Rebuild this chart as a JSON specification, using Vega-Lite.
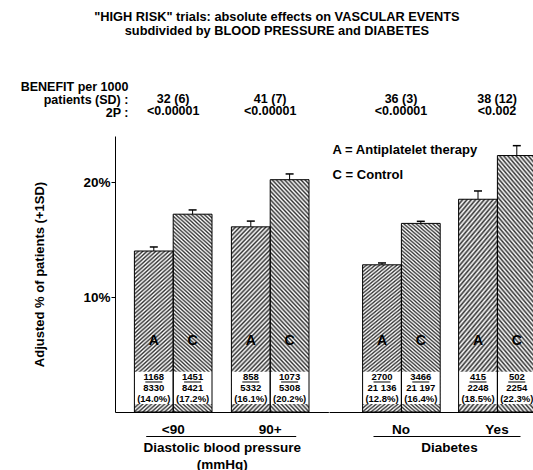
{
  "$schema": "https://vega.github.io/schema/vega-lite/v6.json",
  "padding": {"left": 20, "top": 10, "right": 0, "bottom": 0},
  "title": {
    "text": ["\"HIGH RISK\" trials: absolute effects on VASCULAR EVENTS", "subdivided by BLOOD PRESSURE and DIABETES"],
    "fontSize": 12.8, "lineHeight": 14, "anchor": "middle", "dx": -18, "offset": 43
  },
  "datasets": {
    "bars": [
      {"panel": "bp", "group": "<90", "arm": "A", "pct": 14.0, "hi": 14.35, "events": "1168", "total": "8330", "rate": "(14.0%)"},
      {"panel": "bp", "group": "<90", "arm": "C", "pct": 17.2, "hi": 17.57, "events": "1451", "total": "8421", "rate": "(17.2%)"},
      {"panel": "bp", "group": "90+", "arm": "A", "pct": 16.1, "hi": 16.6, "events": "858", "total": "5332", "rate": "(16.1%)"},
      {"panel": "bp", "group": "90+", "arm": "C", "pct": 20.2, "hi": 20.7, "events": "1073", "total": "5308", "rate": "(20.2%)"},
      {"panel": "db", "group": "No", "arm": "A", "pct": 12.8, "hi": 12.96, "events": "2700", "total": "21 136", "rate": "(12.8%)"},
      {"panel": "db", "group": "No", "arm": "C", "pct": 16.4, "hi": 16.58, "events": "3466", "total": "21 197", "rate": "(16.4%)"},
      {"panel": "db", "group": "Yes", "arm": "A", "pct": 18.5, "hi": 19.22, "events": "415", "total": "2248", "rate": "(18.5%)"},
      {"panel": "db", "group": "Yes", "arm": "C", "pct": 22.3, "hi": 23.16, "events": "502", "total": "2254", "rate": "(22.3%)"}
    ],
    "groups": [
      {"panel": "bp", "group": "<90", "benefit": "32 (6)", "p": "<0.00001"},
      {"panel": "bp", "group": "90+", "benefit": "41 (7)", "p": "<0.00001"},
      {"panel": "db", "group": "No", "benefit": "36 (3)", "p": "<0.00001"},
      {"panel": "db", "group": "Yes", "benefit": "38 (12)", "p": "<0.002"}
    ]
  },
  "spacing": 0,
  "bounds": "flush",
  "hconcat": [
    {
      "width": 213.4,
      "height": 276,
      "layer": [
        {
          "data": {"name": "bars"},
          "transform": [{"filter": "datum.panel === 'bp' && datum.arm === 'A'"}],
          "mark": {"type": "bar", "strokeWidth": 0, "fill": {"gradient": "linear", "x1": 0, "y1": 0, "x2": 0.2527, "y2": 1.1625, "stops": [
        {"offset": 0, "color": "#333"}, {"offset": 0.01, "color": "#fff"}, {"offset": 0.02, "color": "#333"}, {"offset": 0.03, "color": "#fff"}, {"offset": 0.04, "color": "#333"}, {"offset": 0.05, "color": "#fff"}, {"offset": 0.06, "color": "#333"}, {"offset": 0.07, "color": "#fff"}, {"offset": 0.08, "color": "#333"}, {"offset": 0.09, "color": "#fff"},
        {"offset": 0.1, "color": "#333"}, {"offset": 0.11, "color": "#fff"}, {"offset": 0.12, "color": "#333"}, {"offset": 0.13, "color": "#fff"}, {"offset": 0.14, "color": "#333"}, {"offset": 0.15, "color": "#fff"}, {"offset": 0.16, "color": "#333"}, {"offset": 0.17, "color": "#fff"}, {"offset": 0.18, "color": "#333"}, {"offset": 0.19, "color": "#fff"},
        {"offset": 0.2, "color": "#333"}, {"offset": 0.21, "color": "#fff"}, {"offset": 0.22, "color": "#333"}, {"offset": 0.23, "color": "#fff"}, {"offset": 0.24, "color": "#333"}, {"offset": 0.25, "color": "#fff"}, {"offset": 0.26, "color": "#333"}, {"offset": 0.27, "color": "#fff"}, {"offset": 0.28, "color": "#333"}, {"offset": 0.29, "color": "#fff"},
        {"offset": 0.3, "color": "#333"}, {"offset": 0.31, "color": "#fff"}, {"offset": 0.32, "color": "#333"}, {"offset": 0.33, "color": "#fff"}, {"offset": 0.34, "color": "#333"}, {"offset": 0.35, "color": "#fff"}, {"offset": 0.36, "color": "#333"}, {"offset": 0.37, "color": "#fff"}, {"offset": 0.38, "color": "#333"}, {"offset": 0.39, "color": "#fff"},
        {"offset": 0.4, "color": "#333"}, {"offset": 0.41, "color": "#fff"}, {"offset": 0.42, "color": "#333"}, {"offset": 0.43, "color": "#fff"}, {"offset": 0.44, "color": "#333"}, {"offset": 0.45, "color": "#fff"}, {"offset": 0.46, "color": "#333"}, {"offset": 0.47, "color": "#fff"}, {"offset": 0.48, "color": "#333"}, {"offset": 0.49, "color": "#fff"},
        {"offset": 0.5, "color": "#333"}, {"offset": 0.51, "color": "#fff"}, {"offset": 0.52, "color": "#333"}, {"offset": 0.53, "color": "#fff"}, {"offset": 0.54, "color": "#333"}, {"offset": 0.55, "color": "#fff"}, {"offset": 0.56, "color": "#333"}, {"offset": 0.57, "color": "#fff"}, {"offset": 0.58, "color": "#333"}, {"offset": 0.59, "color": "#fff"},
        {"offset": 0.6, "color": "#333"}, {"offset": 0.61, "color": "#fff"}, {"offset": 0.62, "color": "#333"}, {"offset": 0.63, "color": "#fff"}, {"offset": 0.64, "color": "#333"}, {"offset": 0.65, "color": "#fff"}, {"offset": 0.66, "color": "#333"}, {"offset": 0.67, "color": "#fff"}, {"offset": 0.68, "color": "#333"}, {"offset": 0.69, "color": "#fff"},
        {"offset": 0.7, "color": "#333"}, {"offset": 0.71, "color": "#fff"}, {"offset": 0.72, "color": "#333"}, {"offset": 0.73, "color": "#fff"}, {"offset": 0.74, "color": "#333"}, {"offset": 0.75, "color": "#fff"}, {"offset": 0.76, "color": "#333"}, {"offset": 0.77, "color": "#fff"}, {"offset": 0.78, "color": "#333"}, {"offset": 0.79, "color": "#fff"},
        {"offset": 0.8, "color": "#333"}, {"offset": 0.81, "color": "#fff"}, {"offset": 0.82, "color": "#333"}, {"offset": 0.83, "color": "#fff"}, {"offset": 0.84, "color": "#333"}, {"offset": 0.85, "color": "#fff"}, {"offset": 0.86, "color": "#333"}, {"offset": 0.87, "color": "#fff"}, {"offset": 0.88, "color": "#333"}, {"offset": 0.89, "color": "#fff"},
        {"offset": 0.9, "color": "#333"}, {"offset": 0.91, "color": "#fff"}, {"offset": 0.92, "color": "#333"}, {"offset": 0.93, "color": "#fff"}, {"offset": 0.94, "color": "#333"}, {"offset": 0.95, "color": "#fff"}, {"offset": 0.96, "color": "#333"}, {"offset": 0.97, "color": "#fff"}, {"offset": 0.98, "color": "#333"}, {"offset": 0.99, "color": "#fff"},
        {"offset": 1, "color": "#333"}
      ]}},
          "encoding": {
            "x": {"field": "group", "type": "nominal", "scale": {"domain": ["<90", "90+"], "paddingInner": 0.2, "paddingOuter": 0.2},
              "axis": {"title": ["Diastolic blood pressure", "(mmHg)"], "titleLineHeight": 16.5, "labelAngle": 0, "ticks": false, "tickSize": 0, "labelPadding": 10, "titlePadding": 5}},
            "xOffset": {"field": "arm", "type": "nominal", "scale": {"domain": ["A", "C"], "paddingInner": 0, "paddingOuter": 0}},
            "y": {"field": "pct", "type": "quantitative", "scale": {"domain": [0, 24], "nice": false},
              "axis": {"values": [10, 20], "labelExpr": "datum.value + '%'", "tickSize": 4, "labelPadding": 1, "title": "Adjusted % of patients (+1SD)", "titleFontSize": 13, "titlePadding": 36}}
          }
        },
        {
          "data": {"name": "bars"},
          "transform": [{"filter": "datum.panel === 'bp' && datum.arm === 'C'"}],
          "mark": {"type": "bar", "strokeWidth": 0, "fill": {"gradient": "linear", "x1": 1, "y1": 0, "x2": 0.796, "y2": 1.142, "stops": [
        {"offset": 0, "color": "#333"}, {"offset": 0.008, "color": "#fff"}, {"offset": 0.016, "color": "#333"}, {"offset": 0.024, "color": "#fff"}, {"offset": 0.032, "color": "#333"}, {"offset": 0.04, "color": "#fff"}, {"offset": 0.048, "color": "#333"}, {"offset": 0.056, "color": "#fff"}, {"offset": 0.064, "color": "#333"}, {"offset": 0.072, "color": "#fff"},
        {"offset": 0.08, "color": "#333"}, {"offset": 0.088, "color": "#fff"}, {"offset": 0.096, "color": "#333"}, {"offset": 0.104, "color": "#fff"}, {"offset": 0.112, "color": "#333"}, {"offset": 0.12, "color": "#fff"}, {"offset": 0.128, "color": "#333"}, {"offset": 0.136, "color": "#fff"}, {"offset": 0.144, "color": "#333"}, {"offset": 0.152, "color": "#fff"},
        {"offset": 0.16, "color": "#333"}, {"offset": 0.168, "color": "#fff"}, {"offset": 0.176, "color": "#333"}, {"offset": 0.184, "color": "#fff"}, {"offset": 0.192, "color": "#333"}, {"offset": 0.2, "color": "#fff"}, {"offset": 0.208, "color": "#333"}, {"offset": 0.216, "color": "#fff"}, {"offset": 0.224, "color": "#333"}, {"offset": 0.232, "color": "#fff"},
        {"offset": 0.24, "color": "#333"}, {"offset": 0.248, "color": "#fff"}, {"offset": 0.256, "color": "#333"}, {"offset": 0.264, "color": "#fff"}, {"offset": 0.272, "color": "#333"}, {"offset": 0.28, "color": "#fff"}, {"offset": 0.288, "color": "#333"}, {"offset": 0.296, "color": "#fff"}, {"offset": 0.304, "color": "#333"}, {"offset": 0.312, "color": "#fff"},
        {"offset": 0.32, "color": "#333"}, {"offset": 0.328, "color": "#fff"}, {"offset": 0.336, "color": "#333"}, {"offset": 0.344, "color": "#fff"}, {"offset": 0.352, "color": "#333"}, {"offset": 0.36, "color": "#fff"}, {"offset": 0.368, "color": "#333"}, {"offset": 0.376, "color": "#fff"}, {"offset": 0.384, "color": "#333"}, {"offset": 0.392, "color": "#fff"},
        {"offset": 0.4, "color": "#333"}, {"offset": 0.408, "color": "#fff"}, {"offset": 0.416, "color": "#333"}, {"offset": 0.424, "color": "#fff"}, {"offset": 0.432, "color": "#333"}, {"offset": 0.44, "color": "#fff"}, {"offset": 0.448, "color": "#333"}, {"offset": 0.456, "color": "#fff"}, {"offset": 0.464, "color": "#333"}, {"offset": 0.472, "color": "#fff"},
        {"offset": 0.48, "color": "#333"}, {"offset": 0.488, "color": "#fff"}, {"offset": 0.496, "color": "#333"}, {"offset": 0.504, "color": "#fff"}, {"offset": 0.512, "color": "#333"}, {"offset": 0.52, "color": "#fff"}, {"offset": 0.528, "color": "#333"}, {"offset": 0.536, "color": "#fff"}, {"offset": 0.544, "color": "#333"}, {"offset": 0.552, "color": "#fff"},
        {"offset": 0.56, "color": "#333"}, {"offset": 0.568, "color": "#fff"}, {"offset": 0.576, "color": "#333"}, {"offset": 0.584, "color": "#fff"}, {"offset": 0.592, "color": "#333"}, {"offset": 0.6, "color": "#fff"}, {"offset": 0.608, "color": "#333"}, {"offset": 0.616, "color": "#fff"}, {"offset": 0.624, "color": "#333"}, {"offset": 0.632, "color": "#fff"},
        {"offset": 0.64, "color": "#333"}, {"offset": 0.648, "color": "#fff"}, {"offset": 0.656, "color": "#333"}, {"offset": 0.664, "color": "#fff"}, {"offset": 0.672, "color": "#333"}, {"offset": 0.68, "color": "#fff"}, {"offset": 0.688, "color": "#333"}, {"offset": 0.696, "color": "#fff"}, {"offset": 0.704, "color": "#333"}, {"offset": 0.712, "color": "#fff"},
        {"offset": 0.72, "color": "#333"}, {"offset": 0.728, "color": "#fff"}, {"offset": 0.736, "color": "#333"}, {"offset": 0.744, "color": "#fff"}, {"offset": 0.752, "color": "#333"}, {"offset": 0.76, "color": "#fff"}, {"offset": 0.768, "color": "#333"}, {"offset": 0.776, "color": "#fff"}, {"offset": 0.784, "color": "#333"}, {"offset": 0.792, "color": "#fff"},
        {"offset": 0.8, "color": "#333"}, {"offset": 0.808, "color": "#fff"}, {"offset": 0.816, "color": "#333"}, {"offset": 0.824, "color": "#fff"}, {"offset": 0.832, "color": "#333"}, {"offset": 0.84, "color": "#fff"}, {"offset": 0.848, "color": "#333"}, {"offset": 0.856, "color": "#fff"}, {"offset": 0.864, "color": "#333"}, {"offset": 0.872, "color": "#fff"},
        {"offset": 0.88, "color": "#333"}, {"offset": 0.888, "color": "#fff"}, {"offset": 0.896, "color": "#333"}, {"offset": 0.904, "color": "#fff"}, {"offset": 0.912, "color": "#333"}, {"offset": 0.92, "color": "#fff"}, {"offset": 0.928, "color": "#333"}, {"offset": 0.936, "color": "#fff"}, {"offset": 0.944, "color": "#333"}, {"offset": 0.952, "color": "#fff"},
        {"offset": 0.96, "color": "#333"}, {"offset": 0.968, "color": "#fff"}, {"offset": 0.976, "color": "#333"}, {"offset": 0.984, "color": "#fff"}, {"offset": 0.992, "color": "#333"}, {"offset": 1, "color": "#fff"}
      ]}},
          "encoding": {
            "x": {"field": "group", "type": "nominal"},
            "xOffset": {"field": "arm", "type": "nominal"},
            "y": {"field": "pct", "type": "quantitative"}
          }
        },
        {
          "data": {"name": "bars"},
          "transform": [{"filter": "datum.panel === 'bp'"}],
          "layer": [
            {"mark": {"type": "bar", "fill": "#ffffff", "strokeWidth": 0},
             "encoding": {"x": {"field": "group", "type": "nominal"}, "xOffset": {"field": "arm", "type": "nominal"}, "y": {"datum": 0.7}, "y2": {"datum": 3.5}}},
            {"mark": {"type": "bar", "filled": false, "stroke": "#000000", "strokeWidth": 1},
             "encoding": {"x": {"field": "group", "type": "nominal"}, "xOffset": {"field": "arm", "type": "nominal"}, "y": {"field": "pct", "type": "quantitative"}}},
            {"mark": {"type": "rule", "stroke": "#000000", "strokeWidth": 1},
             "encoding": {"x": {"field": "group", "type": "nominal"}, "xOffset": {"field": "arm", "type": "nominal"}, "y": {"field": "pct", "type": "quantitative"}, "y2": {"field": "hi"}}},
            {"mark": {"type": "tick", "orient": "horizontal", "size": 8, "thickness": 1.5, "color": "#000000", "opacity": 1},
             "encoding": {"x": {"field": "group", "type": "nominal"}, "xOffset": {"field": "arm", "type": "nominal"}, "y": {"field": "hi", "type": "quantitative"}}},
            {"mark": {"type": "text", "fontSize": 14, "baseline": "middle"},
             "encoding": {"x": {"field": "group", "type": "nominal"}, "xOffset": {"field": "arm", "type": "nominal"}, "y": {"datum": 6.17}, "text": {"field": "arm"}}},
            {"mark": {"type": "text", "fontSize": 9.5, "baseline": "middle"},
             "encoding": {"x": {"field": "group", "type": "nominal"}, "xOffset": {"field": "arm", "type": "nominal"}, "y": {"datum": 3.02}, "text": {"field": "events"}}},
            {"mark": {"type": "tick", "orient": "horizontal", "size": 17, "thickness": 1, "color": "#000000", "opacity": 1},
             "encoding": {"x": {"field": "group", "type": "nominal"}, "xOffset": {"field": "arm", "type": "nominal"}, "y": {"datum": 2.61}}},
            {"mark": {"type": "text", "fontSize": 9.5, "baseline": "middle"},
             "encoding": {"x": {"field": "group", "type": "nominal"}, "xOffset": {"field": "arm", "type": "nominal"}, "y": {"datum": 2.06}, "text": {"field": "total"}}},
            {"mark": {"type": "text", "fontSize": 9.5, "baseline": "middle"},
             "encoding": {"x": {"field": "group", "type": "nominal"}, "xOffset": {"field": "arm", "type": "nominal"}, "y": {"datum": 1.1}, "text": {"field": "rate"}}}
          ]
        },
        {
          "data": {"name": "groups"},
          "transform": [{"filter": "datum.panel === 'bp'"}],
          "layer": [
            {"mark": {"type": "text", "fontSize": 12.5, "baseline": "middle"},
             "encoding": {"x": {"field": "group", "type": "nominal"}, "y": {"datum": 27.26}, "text": {"field": "benefit"}}},
            {"mark": {"type": "text", "fontSize": 12.5, "baseline": "middle"},
             "encoding": {"x": {"field": "group", "type": "nominal"}, "y": {"datum": 26.17}, "text": {"field": "p"}}}
          ]
        },
        {
          "data": {"values": [{}]},
          "mark": {"type": "text", "fontSize": 12.5, "align": "right", "baseline": "middle", "lineHeight": 13, "dx": -6},
          "encoding": {"x": {"datum": "<90", "bandPosition": 0}, "y": {"datum": 28.3}, "text": {"value": ["BENEFIT per 1000", "patients (SD) :", "2P :"]}}
        },
        {
          "data": {"values": [{}]},
          "mark": {"type": "tick", "orient": "horizontal", "size": 150, "thickness": 1, "color": "#000000", "opacity": 1, "xOffset": 48},
          "encoding": {"x": {"datum": "<90"}, "y": {"datum": -2.13}}
        }
      ]
    },
    {
      "width": 240,
      "height": 276,
      "layer": [
        {
          "data": {"name": "bars"},
          "transform": [{"filter": "datum.panel === 'db' && datum.arm === 'A'"}],
          "mark": {"type": "bar", "strokeWidth": 0, "fill": {"gradient": "linear", "x1": 0, "y1": 0, "x2": 0.2527, "y2": 1.1625, "stops": [
        {"offset": 0, "color": "#333"}, {"offset": 0.01, "color": "#fff"}, {"offset": 0.02, "color": "#333"}, {"offset": 0.03, "color": "#fff"}, {"offset": 0.04, "color": "#333"}, {"offset": 0.05, "color": "#fff"}, {"offset": 0.06, "color": "#333"}, {"offset": 0.07, "color": "#fff"}, {"offset": 0.08, "color": "#333"}, {"offset": 0.09, "color": "#fff"},
        {"offset": 0.1, "color": "#333"}, {"offset": 0.11, "color": "#fff"}, {"offset": 0.12, "color": "#333"}, {"offset": 0.13, "color": "#fff"}, {"offset": 0.14, "color": "#333"}, {"offset": 0.15, "color": "#fff"}, {"offset": 0.16, "color": "#333"}, {"offset": 0.17, "color": "#fff"}, {"offset": 0.18, "color": "#333"}, {"offset": 0.19, "color": "#fff"},
        {"offset": 0.2, "color": "#333"}, {"offset": 0.21, "color": "#fff"}, {"offset": 0.22, "color": "#333"}, {"offset": 0.23, "color": "#fff"}, {"offset": 0.24, "color": "#333"}, {"offset": 0.25, "color": "#fff"}, {"offset": 0.26, "color": "#333"}, {"offset": 0.27, "color": "#fff"}, {"offset": 0.28, "color": "#333"}, {"offset": 0.29, "color": "#fff"},
        {"offset": 0.3, "color": "#333"}, {"offset": 0.31, "color": "#fff"}, {"offset": 0.32, "color": "#333"}, {"offset": 0.33, "color": "#fff"}, {"offset": 0.34, "color": "#333"}, {"offset": 0.35, "color": "#fff"}, {"offset": 0.36, "color": "#333"}, {"offset": 0.37, "color": "#fff"}, {"offset": 0.38, "color": "#333"}, {"offset": 0.39, "color": "#fff"},
        {"offset": 0.4, "color": "#333"}, {"offset": 0.41, "color": "#fff"}, {"offset": 0.42, "color": "#333"}, {"offset": 0.43, "color": "#fff"}, {"offset": 0.44, "color": "#333"}, {"offset": 0.45, "color": "#fff"}, {"offset": 0.46, "color": "#333"}, {"offset": 0.47, "color": "#fff"}, {"offset": 0.48, "color": "#333"}, {"offset": 0.49, "color": "#fff"},
        {"offset": 0.5, "color": "#333"}, {"offset": 0.51, "color": "#fff"}, {"offset": 0.52, "color": "#333"}, {"offset": 0.53, "color": "#fff"}, {"offset": 0.54, "color": "#333"}, {"offset": 0.55, "color": "#fff"}, {"offset": 0.56, "color": "#333"}, {"offset": 0.57, "color": "#fff"}, {"offset": 0.58, "color": "#333"}, {"offset": 0.59, "color": "#fff"},
        {"offset": 0.6, "color": "#333"}, {"offset": 0.61, "color": "#fff"}, {"offset": 0.62, "color": "#333"}, {"offset": 0.63, "color": "#fff"}, {"offset": 0.64, "color": "#333"}, {"offset": 0.65, "color": "#fff"}, {"offset": 0.66, "color": "#333"}, {"offset": 0.67, "color": "#fff"}, {"offset": 0.68, "color": "#333"}, {"offset": 0.69, "color": "#fff"},
        {"offset": 0.7, "color": "#333"}, {"offset": 0.71, "color": "#fff"}, {"offset": 0.72, "color": "#333"}, {"offset": 0.73, "color": "#fff"}, {"offset": 0.74, "color": "#333"}, {"offset": 0.75, "color": "#fff"}, {"offset": 0.76, "color": "#333"}, {"offset": 0.77, "color": "#fff"}, {"offset": 0.78, "color": "#333"}, {"offset": 0.79, "color": "#fff"},
        {"offset": 0.8, "color": "#333"}, {"offset": 0.81, "color": "#fff"}, {"offset": 0.82, "color": "#333"}, {"offset": 0.83, "color": "#fff"}, {"offset": 0.84, "color": "#333"}, {"offset": 0.85, "color": "#fff"}, {"offset": 0.86, "color": "#333"}, {"offset": 0.87, "color": "#fff"}, {"offset": 0.88, "color": "#333"}, {"offset": 0.89, "color": "#fff"},
        {"offset": 0.9, "color": "#333"}, {"offset": 0.91, "color": "#fff"}, {"offset": 0.92, "color": "#333"}, {"offset": 0.93, "color": "#fff"}, {"offset": 0.94, "color": "#333"}, {"offset": 0.95, "color": "#fff"}, {"offset": 0.96, "color": "#333"}, {"offset": 0.97, "color": "#fff"}, {"offset": 0.98, "color": "#333"}, {"offset": 0.99, "color": "#fff"},
        {"offset": 1, "color": "#333"}
      ]}},
          "encoding": {
            "x": {"field": "group", "type": "nominal", "scale": {"domain": ["No", "Yes"], "paddingInner": 0.2, "paddingOuter": 0.35},
              "axis": {"title": "Diabetes", "labelAngle": 0, "ticks": false, "tickSize": 0, "labelPadding": 10, "titlePadding": 5}},
            "xOffset": {"field": "arm", "type": "nominal", "scale": {"domain": ["A", "C"], "paddingInner": 0, "paddingOuter": 0}},
            "y": {"field": "pct", "type": "quantitative", "scale": {"domain": [0, 24], "nice": false}, "axis": null}
          }
        },
        {
          "data": {"name": "bars"},
          "transform": [{"filter": "datum.panel === 'db' && datum.arm === 'C'"}],
          "mark": {"type": "bar", "strokeWidth": 0, "fill": {"gradient": "linear", "x1": 1, "y1": 0, "x2": 0.796, "y2": 1.142, "stops": [
        {"offset": 0, "color": "#333"}, {"offset": 0.008, "color": "#fff"}, {"offset": 0.016, "color": "#333"}, {"offset": 0.024, "color": "#fff"}, {"offset": 0.032, "color": "#333"}, {"offset": 0.04, "color": "#fff"}, {"offset": 0.048, "color": "#333"}, {"offset": 0.056, "color": "#fff"}, {"offset": 0.064, "color": "#333"}, {"offset": 0.072, "color": "#fff"},
        {"offset": 0.08, "color": "#333"}, {"offset": 0.088, "color": "#fff"}, {"offset": 0.096, "color": "#333"}, {"offset": 0.104, "color": "#fff"}, {"offset": 0.112, "color": "#333"}, {"offset": 0.12, "color": "#fff"}, {"offset": 0.128, "color": "#333"}, {"offset": 0.136, "color": "#fff"}, {"offset": 0.144, "color": "#333"}, {"offset": 0.152, "color": "#fff"},
        {"offset": 0.16, "color": "#333"}, {"offset": 0.168, "color": "#fff"}, {"offset": 0.176, "color": "#333"}, {"offset": 0.184, "color": "#fff"}, {"offset": 0.192, "color": "#333"}, {"offset": 0.2, "color": "#fff"}, {"offset": 0.208, "color": "#333"}, {"offset": 0.216, "color": "#fff"}, {"offset": 0.224, "color": "#333"}, {"offset": 0.232, "color": "#fff"},
        {"offset": 0.24, "color": "#333"}, {"offset": 0.248, "color": "#fff"}, {"offset": 0.256, "color": "#333"}, {"offset": 0.264, "color": "#fff"}, {"offset": 0.272, "color": "#333"}, {"offset": 0.28, "color": "#fff"}, {"offset": 0.288, "color": "#333"}, {"offset": 0.296, "color": "#fff"}, {"offset": 0.304, "color": "#333"}, {"offset": 0.312, "color": "#fff"},
        {"offset": 0.32, "color": "#333"}, {"offset": 0.328, "color": "#fff"}, {"offset": 0.336, "color": "#333"}, {"offset": 0.344, "color": "#fff"}, {"offset": 0.352, "color": "#333"}, {"offset": 0.36, "color": "#fff"}, {"offset": 0.368, "color": "#333"}, {"offset": 0.376, "color": "#fff"}, {"offset": 0.384, "color": "#333"}, {"offset": 0.392, "color": "#fff"},
        {"offset": 0.4, "color": "#333"}, {"offset": 0.408, "color": "#fff"}, {"offset": 0.416, "color": "#333"}, {"offset": 0.424, "color": "#fff"}, {"offset": 0.432, "color": "#333"}, {"offset": 0.44, "color": "#fff"}, {"offset": 0.448, "color": "#333"}, {"offset": 0.456, "color": "#fff"}, {"offset": 0.464, "color": "#333"}, {"offset": 0.472, "color": "#fff"},
        {"offset": 0.48, "color": "#333"}, {"offset": 0.488, "color": "#fff"}, {"offset": 0.496, "color": "#333"}, {"offset": 0.504, "color": "#fff"}, {"offset": 0.512, "color": "#333"}, {"offset": 0.52, "color": "#fff"}, {"offset": 0.528, "color": "#333"}, {"offset": 0.536, "color": "#fff"}, {"offset": 0.544, "color": "#333"}, {"offset": 0.552, "color": "#fff"},
        {"offset": 0.56, "color": "#333"}, {"offset": 0.568, "color": "#fff"}, {"offset": 0.576, "color": "#333"}, {"offset": 0.584, "color": "#fff"}, {"offset": 0.592, "color": "#333"}, {"offset": 0.6, "color": "#fff"}, {"offset": 0.608, "color": "#333"}, {"offset": 0.616, "color": "#fff"}, {"offset": 0.624, "color": "#333"}, {"offset": 0.632, "color": "#fff"},
        {"offset": 0.64, "color": "#333"}, {"offset": 0.648, "color": "#fff"}, {"offset": 0.656, "color": "#333"}, {"offset": 0.664, "color": "#fff"}, {"offset": 0.672, "color": "#333"}, {"offset": 0.68, "color": "#fff"}, {"offset": 0.688, "color": "#333"}, {"offset": 0.696, "color": "#fff"}, {"offset": 0.704, "color": "#333"}, {"offset": 0.712, "color": "#fff"},
        {"offset": 0.72, "color": "#333"}, {"offset": 0.728, "color": "#fff"}, {"offset": 0.736, "color": "#333"}, {"offset": 0.744, "color": "#fff"}, {"offset": 0.752, "color": "#333"}, {"offset": 0.76, "color": "#fff"}, {"offset": 0.768, "color": "#333"}, {"offset": 0.776, "color": "#fff"}, {"offset": 0.784, "color": "#333"}, {"offset": 0.792, "color": "#fff"},
        {"offset": 0.8, "color": "#333"}, {"offset": 0.808, "color": "#fff"}, {"offset": 0.816, "color": "#333"}, {"offset": 0.824, "color": "#fff"}, {"offset": 0.832, "color": "#333"}, {"offset": 0.84, "color": "#fff"}, {"offset": 0.848, "color": "#333"}, {"offset": 0.856, "color": "#fff"}, {"offset": 0.864, "color": "#333"}, {"offset": 0.872, "color": "#fff"},
        {"offset": 0.88, "color": "#333"}, {"offset": 0.888, "color": "#fff"}, {"offset": 0.896, "color": "#333"}, {"offset": 0.904, "color": "#fff"}, {"offset": 0.912, "color": "#333"}, {"offset": 0.92, "color": "#fff"}, {"offset": 0.928, "color": "#333"}, {"offset": 0.936, "color": "#fff"}, {"offset": 0.944, "color": "#333"}, {"offset": 0.952, "color": "#fff"},
        {"offset": 0.96, "color": "#333"}, {"offset": 0.968, "color": "#fff"}, {"offset": 0.976, "color": "#333"}, {"offset": 0.984, "color": "#fff"}, {"offset": 0.992, "color": "#333"}, {"offset": 1, "color": "#fff"}
      ]}},
          "encoding": {
            "x": {"field": "group", "type": "nominal"},
            "xOffset": {"field": "arm", "type": "nominal"},
            "y": {"field": "pct", "type": "quantitative"}
          }
        },
        {
          "data": {"name": "bars"},
          "transform": [{"filter": "datum.panel === 'db'"}],
          "layer": [
            {"mark": {"type": "bar", "fill": "#ffffff", "strokeWidth": 0},
             "encoding": {"x": {"field": "group", "type": "nominal"}, "xOffset": {"field": "arm", "type": "nominal"}, "y": {"datum": 0.7}, "y2": {"datum": 3.5}}},
            {"mark": {"type": "bar", "filled": false, "stroke": "#000000", "strokeWidth": 1},
             "encoding": {"x": {"field": "group", "type": "nominal"}, "xOffset": {"field": "arm", "type": "nominal"}, "y": {"field": "pct", "type": "quantitative"}}},
            {"mark": {"type": "rule", "stroke": "#000000", "strokeWidth": 1},
             "encoding": {"x": {"field": "group", "type": "nominal"}, "xOffset": {"field": "arm", "type": "nominal"}, "y": {"field": "pct", "type": "quantitative"}, "y2": {"field": "hi"}}},
            {"mark": {"type": "tick", "orient": "horizontal", "size": 8, "thickness": 1.5, "color": "#000000", "opacity": 1},
             "encoding": {"x": {"field": "group", "type": "nominal"}, "xOffset": {"field": "arm", "type": "nominal"}, "y": {"field": "hi", "type": "quantitative"}}},
            {"mark": {"type": "text", "fontSize": 14, "baseline": "middle"},
             "encoding": {"x": {"field": "group", "type": "nominal"}, "xOffset": {"field": "arm", "type": "nominal"}, "y": {"datum": 6.17}, "text": {"field": "arm"}}},
            {"mark": {"type": "text", "fontSize": 9.5, "baseline": "middle"},
             "encoding": {"x": {"field": "group", "type": "nominal"}, "xOffset": {"field": "arm", "type": "nominal"}, "y": {"datum": 3.02}, "text": {"field": "events"}}},
            {"mark": {"type": "tick", "orient": "horizontal", "size": 17, "thickness": 1, "color": "#000000", "opacity": 1},
             "encoding": {"x": {"field": "group", "type": "nominal"}, "xOffset": {"field": "arm", "type": "nominal"}, "y": {"datum": 2.61}}},
            {"mark": {"type": "text", "fontSize": 9.5, "baseline": "middle"},
             "encoding": {"x": {"field": "group", "type": "nominal"}, "xOffset": {"field": "arm", "type": "nominal"}, "y": {"datum": 2.06}, "text": {"field": "total"}}},
            {"mark": {"type": "text", "fontSize": 9.5, "baseline": "middle"},
             "encoding": {"x": {"field": "group", "type": "nominal"}, "xOffset": {"field": "arm", "type": "nominal"}, "y": {"datum": 1.1}, "text": {"field": "rate"}}}
          ]
        },
        {
          "data": {"name": "groups"},
          "transform": [{"filter": "datum.panel === 'db'"}],
          "layer": [
            {"mark": {"type": "text", "fontSize": 12.5, "baseline": "middle"},
             "encoding": {"x": {"field": "group", "type": "nominal"}, "y": {"datum": 27.26}, "text": {"field": "benefit"}}},
            {"mark": {"type": "text", "fontSize": 12.5, "baseline": "middle"},
             "encoding": {"x": {"field": "group", "type": "nominal"}, "y": {"datum": 26.17}, "text": {"field": "p"}}}
          ]
        },
        {
          "data": {"values": [{}]},
          "mark": {"type": "text", "fontSize": 13, "align": "left", "baseline": "middle", "lineHeight": 25, "dx": -30},
          "encoding": {"x": {"datum": "No", "bandPosition": 0}, "y": {"datum": 22.78}, "text": {"value": ["A = Antiplatelet therapy", "C = Control"]}}
        },
        {
          "data": {"values": [{}]},
          "mark": {"type": "tick", "orient": "horizontal", "size": 147, "thickness": 1, "color": "#000000", "opacity": 1, "xOffset": 46},
          "encoding": {"x": {"datum": "No"}, "y": {"datum": -2.13}}
        }
      ]
    }
  ],
  "config": {
    "view": {"stroke": null},
    "font": "Liberation Sans",
    "axis": {"labelFont": "Liberation Sans", "titleFont": "Liberation Sans", "labelFontWeight": "bold", "titleFontWeight": "bold", "labelColor": "#000000", "titleColor": "#000000", "domainColor": "#000000", "tickColor": "#000000", "grid": false, "labelFontSize": 13.5, "titleFontSize": 13.5},
    "text": {"font": "Liberation Sans", "fontWeight": "bold", "color": "#000000"},
    "title": {"font": "Liberation Sans", "fontWeight": "bold", "color": "#000000"}
  }
}
